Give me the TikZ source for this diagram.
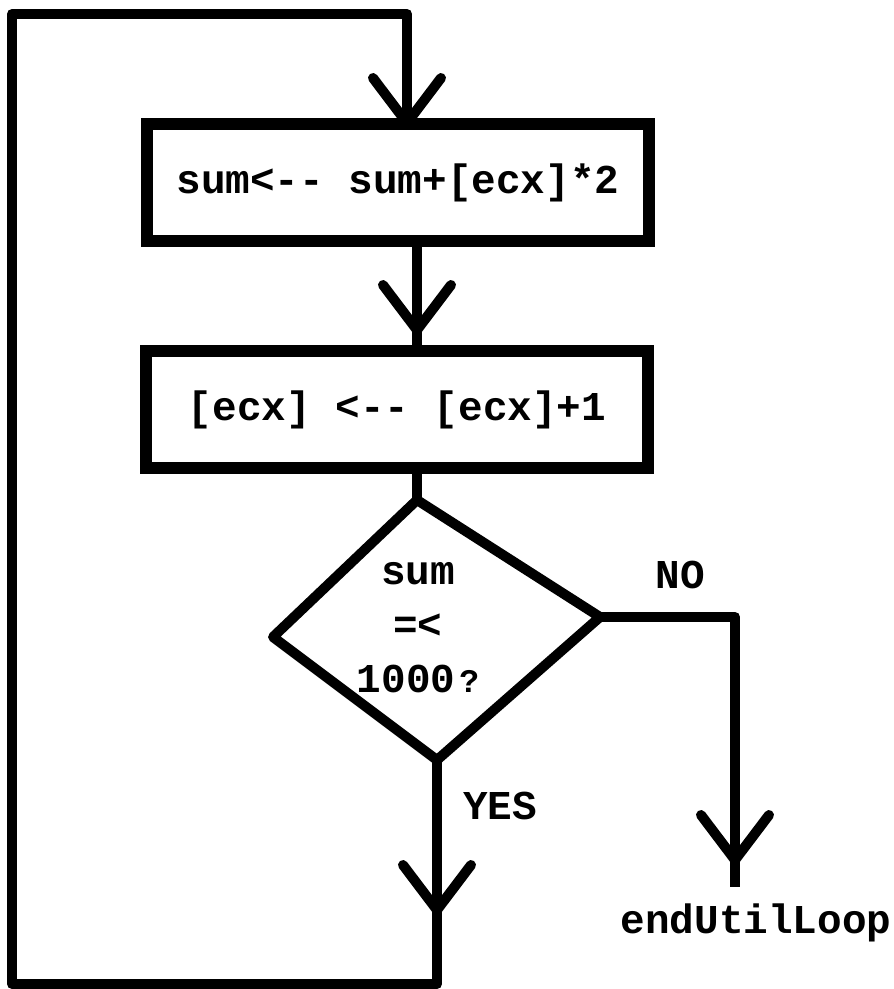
\documentclass[tikz,border=0pt]{standalone}
\usepackage{fontspec}
\setmonofont{Liberation Mono}
\usetikzlibrary{decorations.markings,calc}

\tikzset{
  flowline/.style={line width=10pt, line join=round},
  procbox/.style={draw, line width=12pt, minimum width=502pt, minimum height=117pt, inner sep=0pt, outer sep=0pt},
  codetext/.style={font=\ttfamily\bfseries\fontsize{41}{54}\selectfont},
  vhead/.style={postaction={decorate, decoration={markings,
      mark=at position #1 with {\draw[line width=10pt, line cap=round, line join=round] (-45,34) -- (0,0) -- (-45,-34);}}}}
}

\begin{document}
\begin{tikzpicture}[x=1pt, y=-1pt]
\useasboundingbox (0,0) rectangle (894,989);

% Process boxes
\node[procbox, codetext] (sumbox) at (398,182.5) {sum<-- sum+[ecx]*2};
\node[procbox, codetext] (incbox) at (397,409.5) {[ecx] <-- [ecx]+1};

% Decision (hand drawn, slightly skewed)
\coordinate (dtop) at (417,500);
\coordinate (dright) at (600,617);
\coordinate (dbot) at (437,760);
\coordinate (dleft) at (273,637);
\draw[flowline] (dtop) -- (dright) -- (dbot) -- (dleft) -- cycle;
\node[codetext, align=center] (cond) at (418,628) {sum\\=<\\1000\kern4pt{\fontsize{33}{33}\selectfont ?}};

% Straight flow
\draw[flowline, vhead=-21pt] (sumbox.south -| dtop) -- (incbox.north -| dtop);
\draw[flowline] (incbox.south -| dtop) -- (dtop);

% NO branch
\coordinate (noend) at (735,887);
\draw[flowline, vhead=-27pt] (dright) -| (noend);
\node[codetext] (nolabel) at (680,575) {NO};
\node[codetext] (endloop) at ($(noend)+(21,36)$) {endUtilLoop};

% YES branch, back to the top
\coordinate (yescorner) at (435,984);
\coordinate (loopbl) at (12,984);
\coordinate (looptl) at (12,14);
\coordinate (looptr) at (407,14);
\draw[flowline, vhead=150pt, vhead=-1pt] (dbot) -- (dbot |- yescorner) -- (loopbl) -- (looptl) -- (looptr) -- (looptr |- sumbox.north);
\node[codetext] (yeslabel) at (500,806) {YES};

\end{tikzpicture}
\end{document}
